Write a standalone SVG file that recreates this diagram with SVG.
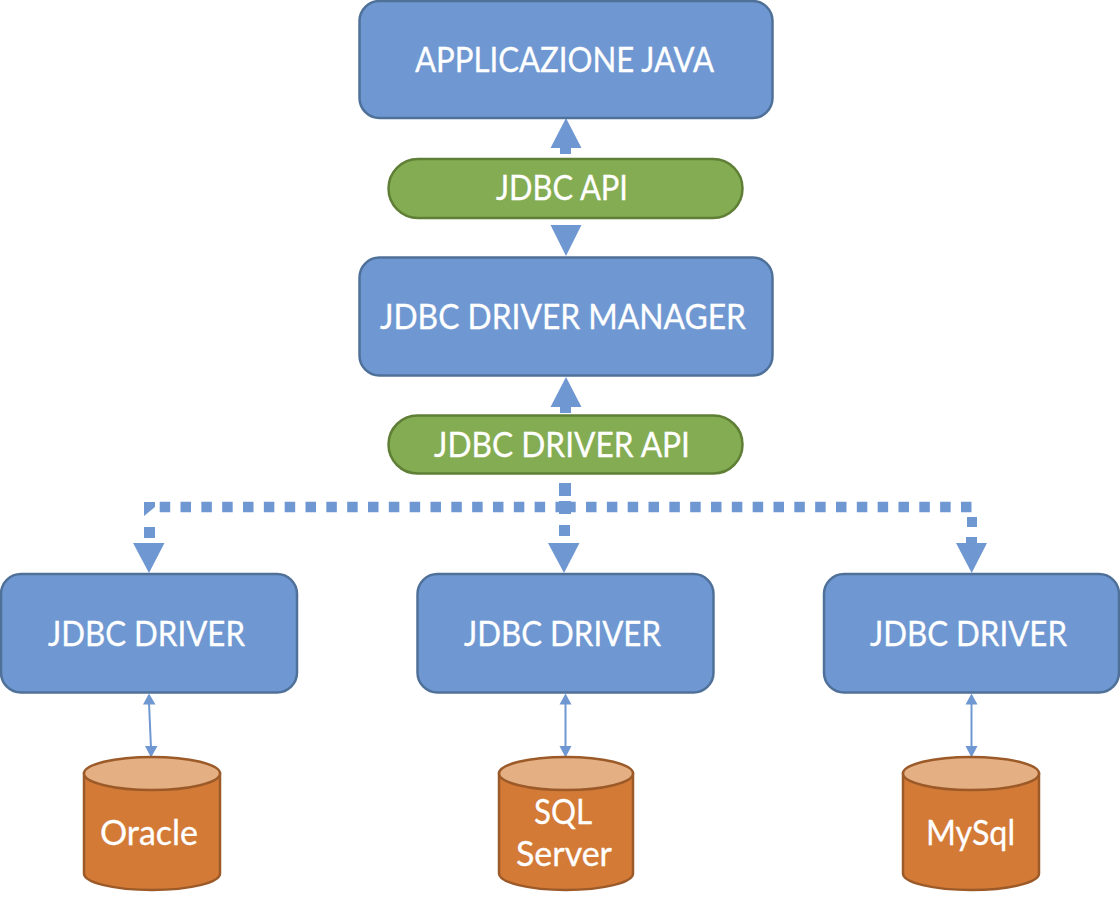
<svg xmlns="http://www.w3.org/2000/svg" width="1120" height="900" viewBox="0 0 1120 900">
<style>
.box{fill:#6f98d2;stroke:#4f7199;stroke-width:2.500}
.pill{fill:#84ac52;stroke:#5f7f36;stroke-width:2.500}
.cyl{fill:#d37a37;stroke:#9c5a29;stroke-width:2.500}
.top{fill:#e3af83;stroke:#9c5a29;stroke-width:2.500}
text{font-family:"Lato","Open Sans","Liberation Sans",sans-serif;fill:#fff;stroke:#fff;stroke-width:.3;text-anchor:middle;font-size:34px}
.dot{fill:none;stroke:#6f98d2;stroke-width:10.500;stroke-dasharray:10.500 10.330}
.thin{fill:none;stroke:#6f98d2;stroke-width:2}
.head{fill:#6f98d2}
</style>
<g id="connectors">
<path class="head" d="M566 118L581.500 148H571V154H560V148H550.500Z"/>
<path class="head" d="M550.500 225H581.500L566 256Z"/>
<path class="head" d="M566 377L581.500 407H571V413H560V407H550.500Z"/>
<path class="dot" d="M159.700 507H566"/>
<path class="dot" d="M565.200 507H972"/>
<path class="head" d="M144 502H155V507L144 516Z"/>
<path class="head" d="M144 527H155V538H144Z"/>
<path class="head" d="M133 543H164.500L149 573Z"/>
<path class="head" d="M559 483H571V496H559Z"/>
<path class="head" d="M559 501H571V514H559Z"/>
<path class="head" d="M559 525H570V536H559Z"/>
<path class="head" d="M548 543H579.500L564 573Z"/>
<path class="head" d="M967 517H977V527H967Z"/>
<path class="head" d="M966 537H977V543H987L971.700 573L956 543H966Z"/>
<path class="thin" d="M149 703L151 748"/>
<path class="head" d="M149 693.500L155.500 704.500H143Z"/>
<path class="head" d="M151 757.500L145 746H157.500Z"/>
<path class="thin" d="M565.500 703V748"/>
<path class="head" d="M565.500 693.500L571.500 704.500H559.500Z"/>
<path class="head" d="M565.500 757.500L559.500 746H571.500Z"/>
<path class="thin" d="M971.500 703V748"/>
<path class="head" d="M971.500 693.500L977.500 704.500H965.500Z"/>
<path class="head" d="M971.500 757.500L965.500 746H977.500Z"/>
</g>
<g id="app"><rect class="box" x="359.500" y="1" width="413" height="117" rx="20"/><text x="564.500" y="72" textLength="299" lengthAdjust="spacingAndGlyphs">APPLICAZIONE JAVA</text></g>
<g id="jdbc-api"><rect class="pill" x="388.500" y="159" width="354" height="59" rx="29.500"/><text x="562" y="200" textLength="132" lengthAdjust="spacingAndGlyphs">JDBC API</text></g>
<g id="manager"><rect class="box" x="359.500" y="257.500" width="413" height="118" rx="20"/><text x="563" y="329" textLength="366" lengthAdjust="spacingAndGlyphs">JDBC DRIVER MANAGER</text></g>
<g id="driver-api"><rect class="pill" x="388.500" y="415.500" width="354" height="58" rx="29"/><text x="562" y="457" textLength="256" lengthAdjust="spacingAndGlyphs">JDBC DRIVER API</text></g>
<g id="driver1"><rect class="box" x="1" y="574" width="296" height="118.500" rx="20"/><text x="146.500" y="646" textLength="197" lengthAdjust="spacingAndGlyphs">JDBC DRIVER</text></g>
<g id="driver2"><rect class="box" x="417.500" y="574" width="296" height="118.500" rx="20"/><text x="562.500" y="646" textLength="197" lengthAdjust="spacingAndGlyphs">JDBC DRIVER</text></g>
<g id="driver3"><rect class="box" x="824" y="574" width="295" height="118.500" rx="20"/><text x="968.500" y="646" textLength="197" lengthAdjust="spacingAndGlyphs">JDBC DRIVER</text></g>
<g id="oracle"><path class="cyl" d="M84 773.500V873.500C84 882.500 114 890 152 890S220 882.500 220 873.500V773.500Z"/><ellipse class="top" cx="152" cy="773.500" rx="68" ry="16.500"/><text x="149" y="845" textLength="98" lengthAdjust="spacingAndGlyphs">Oracle</text></g>
<g id="sqlserver"><path class="cyl" d="M499 773.500V873.500C499 882.500 529 890 566 890S633 882.500 633 873.500V773.500Z"/><ellipse class="top" cx="566" cy="773.500" rx="67" ry="16.500"/><text x="563" y="824" textLength="58" lengthAdjust="spacingAndGlyphs">SQL</text><text x="564" y="866" textLength="96" lengthAdjust="spacingAndGlyphs">Server</text></g>
<g id="mysql"><path class="cyl" d="M903 773.500V873.500C903 882.500 933 890 971 890S1039 882.500 1039 873.500V773.500Z"/><ellipse class="top" cx="971" cy="773.500" rx="68" ry="16.500"/><text x="970.500" y="845" textLength="89" lengthAdjust="spacingAndGlyphs">MySql</text></g>
</svg>
